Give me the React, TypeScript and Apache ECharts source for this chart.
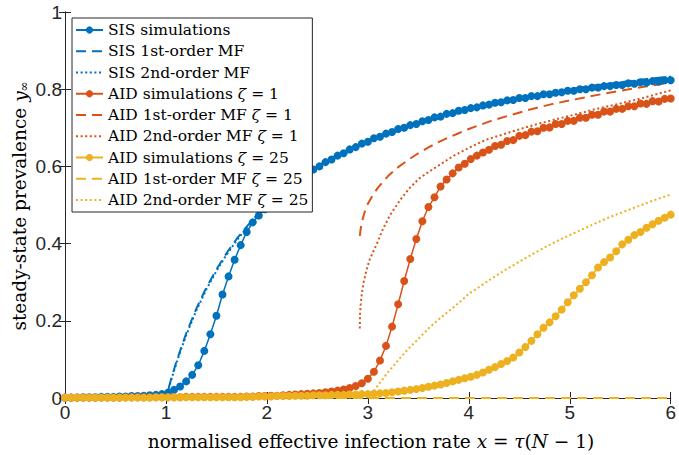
import React, { useEffect, useRef } from "react";
import * as echarts from "echarts";

// ---------- data ----------
const xSim = [
  0, 0.06, 0.12, 0.18, 0.24, 0.3, 0.36, 0.42, 0.48, 0.54,
  0.6, 0.66, 0.72, 0.78, 0.84, 0.9, 0.96, 1.02, 1.08, 1.14,
  1.2, 1.26, 1.32, 1.38, 1.44, 1.5, 1.56, 1.62, 1.68, 1.74,
  1.8, 1.86, 1.92, 1.98, 2.04, 2.1, 2.16, 2.22, 2.28, 2.34,
  2.4, 2.46, 2.52, 2.58, 2.64, 2.7, 2.76, 2.82, 2.88, 2.94,
  3.0, 3.06, 3.12, 3.18, 3.24, 3.3, 3.36, 3.42, 3.48, 3.54,
  3.6, 3.66, 3.72, 3.78, 3.84, 3.9, 3.96, 4.02, 4.08, 4.14,
  4.2, 4.26, 4.32, 4.38, 4.44, 4.5, 4.56, 4.62, 4.68, 4.74,
  4.8, 4.86, 4.92, 4.98, 5.04, 5.1, 5.16, 5.22, 5.28, 5.34,
  5.4, 5.46, 5.52, 5.58, 5.64, 5.7, 5.76, 5.82, 5.88, 5.94,
  6.0,
];

const sisSim = [
  0.001, 0.001, 0.001, 0.002, 0.002, 0.002, 0.003, 0.003, 0.003, 0.004,
  0.004, 0.005, 0.005, 0.006, 0.007, 0.008, 0.010, 0.014, 0.021, 0.030,
  0.043, 0.060, 0.085, 0.122, 0.165, 0.213, 0.268, 0.315, 0.358, 0.396,
  0.430, 0.455, 0.473, 0.489,
  0.506, 0.521, 0.533, 0.548, 0.558, 0.571, 0.580, 0.592, 0.600, 0.611,
  0.618, 0.628, 0.634, 0.644, 0.650, 0.659, 0.664, 0.673, 0.677, 0.685,
  0.689, 0.697, 0.700, 0.707, 0.710, 0.717, 0.720, 0.727, 0.729, 0.736,
  0.738, 0.744, 0.746, 0.751, 0.753, 0.758, 0.760, 0.765, 0.766, 0.771,
  0.772, 0.777, 0.777, 0.782, 0.782, 0.787, 0.787, 0.791, 0.792, 0.796,
  0.796, 0.800, 0.800, 0.804, 0.804, 0.808, 0.808, 0.811, 0.811, 0.815,
  0.814, 0.818, 0.817, 0.821, 0.820, 0.823, 0.823,
];

const aid1Sim = [
  0.001, 0.001, 0.001, 0.001, 0.001, 0.001, 0.001, 0.001, 0.001, 0.001,
  0.002, 0.002, 0.002, 0.002, 0.002, 0.002, 0.002, 0.002, 0.002, 0.002,
  0.003, 0.003, 0.003, 0.003, 0.003, 0.003, 0.003, 0.003, 0.003, 0.003,
  0.004, 0.004, 0.005, 0.005, 0.006, 0.006, 0.007, 0.008, 0.009, 0.010,
  0.011, 0.012, 0.013, 0.015, 0.017, 0.019, 0.022, 0.026, 0.031, 0.038,
  0.050, 0.068, 0.097, 0.135, 0.185, 0.243, 0.303, 0.360, 0.412, 0.458,
  0.495, 0.520, 0.548, 0.566, 0.582, 0.597, 0.607, 0.619, 0.628, 0.636,
  0.643, 0.653, 0.656, 0.666, 0.668, 0.679, 0.681, 0.690, 0.691, 0.700,
  0.701, 0.710, 0.710, 0.718, 0.718, 0.726, 0.726, 0.734, 0.734, 0.742,
  0.742, 0.749, 0.749, 0.756, 0.756, 0.763, 0.762, 0.769, 0.768, 0.775,
  0.776,
];

const aid25Sim = [
  0.001, 0.001, 0.001, 0.001, 0.001, 0.001, 0.001, 0.001, 0.001, 0.001,
  0.001, 0.001, 0.001, 0.001, 0.001, 0.002, 0.002, 0.002, 0.002, 0.002,
  0.002, 0.002, 0.002, 0.002, 0.002, 0.002, 0.002, 0.002, 0.002, 0.002,
  0.003, 0.003, 0.004, 0.004, 0.004, 0.005, 0.005, 0.005, 0.006, 0.006,
  0.006, 0.007, 0.007, 0.007, 0.008, 0.008, 0.008, 0.009, 0.009, 0.010,
  0.010, 0.011, 0.012, 0.013, 0.015, 0.017, 0.019, 0.021, 0.023, 0.026,
  0.029, 0.032, 0.035, 0.039, 0.043, 0.047, 0.051, 0.055, 0.060, 0.066,
  0.073, 0.080, 0.088, 0.096, 0.105, 0.118, 0.132, 0.148, 0.165, 0.182,
  0.196, 0.212, 0.229, 0.248, 0.266, 0.283, 0.300, 0.318, 0.338, 0.352,
  0.364, 0.380, 0.398, 0.410, 0.422, 0.430, 0.441, 0.450, 0.459, 0.467,
  0.475,
];

const sisMfX = [
  0, 1, 1.05, 1.1, 1.15, 1.2, 1.3, 1.4, 1.5, 1.6, 1.7, 1.8, 1.9, 2.0, 2.2, 2.4,
  2.6, 2.8, 3.0, 3.25, 3.5, 3.75, 4.0, 4.25, 4.5, 4.75, 5.0, 5.25, 5.5, 5.75, 6.0,
];
const sisMf1 = [
  0, 0, 0.048, 0.091, 0.13, 0.167, 0.231, 0.286, 0.333, 0.375, 0.412, 0.444, 0.474, 0.5, 0.545, 0.583,
  0.615, 0.643, 0.667, 0.692, 0.714, 0.733, 0.75, 0.765, 0.778, 0.789, 0.8, 0.81, 0.818, 0.826, 0.833,
];
const sisMf2 = [
  0, 0, 0.045, 0.087, 0.126, 0.162, 0.226, 0.281, 0.329, 0.371, 0.408, 0.441, 0.471, 0.497, 0.543, 0.581,
  0.613, 0.641, 0.665, 0.69, 0.712, 0.731, 0.748, 0.763, 0.776, 0.788, 0.799, 0.809, 0.817, 0.825, 0.832,
];

const aid1Mf1X = [
  2.92, 2.93, 2.95, 2.97, 3.0, 3.05, 3.1, 3.2, 3.3, 3.4, 3.5, 3.6, 3.7, 3.8, 3.9, 4.0,
  4.2, 4.4, 4.6, 4.8, 5.0, 5.25, 5.5, 5.75, 6.0,
];
const aid1Mf1 = [
  0.42, 0.44, 0.465, 0.483, 0.503, 0.526, 0.545, 0.575, 0.598, 0.617, 0.634, 0.649, 0.663, 0.675, 0.686, 0.697,
  0.716, 0.732, 0.747, 0.76, 0.771, 0.784, 0.796, 0.807, 0.817,
];

const aid1Mf2X = [
  2.92, 2.922, 2.93, 2.94, 2.96, 2.99, 3.02, 3.09, 3.15, 3.22, 3.32, 3.41, 3.51, 3.61, 3.71, 3.84,
  4.0, 4.17, 4.4, 4.6, 4.8, 5.0, 5.25, 5.5, 5.75, 6.0,
];
const aid1Mf2 = [
  0.18, 0.215, 0.245, 0.27, 0.302, 0.335, 0.36, 0.4, 0.438, 0.474, 0.513, 0.543, 0.569, 0.587, 0.604, 0.626,
  0.648, 0.669, 0.688, 0.704, 0.718, 0.731, 0.748, 0.763, 0.779, 0.797,
];

const aid25Mf1X = [0, 3, 6];
const aid25Mf1 = [0, 0, 0];

const aid25Mf2X = [
  3.0, 3.05, 3.1, 3.2, 3.3, 3.4, 3.5, 3.6, 3.7, 3.8, 3.9, 4.0, 4.1, 4.2, 4.3, 4.4,
  4.5, 4.6, 4.7, 4.8, 4.9, 5.0, 5.1, 5.2, 5.3, 5.4, 5.5, 5.6, 5.7, 5.8, 5.9, 6.0,
];
const aid25Mf2 = [
  0, 0.015, 0.033, 0.067, 0.098, 0.127, 0.153, 0.18, 0.203, 0.225, 0.246, 0.27, 0.287, 0.305, 0.322, 0.338,
  0.353, 0.368, 0.383, 0.397, 0.41, 0.422, 0.434, 0.446, 0.458, 0.469, 0.479, 0.489, 0.499, 0.509, 0.518, 0.527,
];

const seriesNames = [
  "SIS simulations",
  "SIS 1st-order MF",
  "SIS 2nd-order MF",
  "AID simulations ζ = 1",
  "AID 1st-order MF ζ = 1",
  "AID 2nd-order MF ζ = 1",
  "AID simulations ζ = 25",
  "AID 1st-order MF ζ = 25",
  "AID 2nd-order MF ζ = 25",
];

const xTicks = { min: 0, max: 6, interval: 1 };
const yTicks = { min: 0, max: 1, interval: 0.2 };

// ---------- styling ----------
const BLUE = "#0072BD";
const ORANGE = "#D95319";
const YELLOW = "#EDB120";
const AXIS = "#262626";
const SERIF = "'DejaVu Serif', 'Liberation Serif', serif";
const SANS = "'Liberation Sans', Arial, Helvetica, sans-serif";
const DASH = [10, 6];
const DOT = [2, 2.6];

const zip = (xs: number[], ys: number[]) => xs.map((x, i) => [x, ys[i]]);

function simSeries(name: string, ys: number[], color: string) {
  return {
    name,
    type: "line",
    data: zip(xSim, ys),
    symbol: "circle",
    symbolSize: 8,
    showSymbol: true,
    showAllSymbol: true,
    lineStyle: { color, width: 1.5 },
    itemStyle: { color },
    emphasis: { disabled: true },
  };
}

function mfSeries(name: string, xs: number[], ys: number[], color: string, dash: number[]) {
  return {
    name,
    type: "line",
    data: zip(xs, ys),
    symbol: "none",
    showSymbol: false,
    lineStyle: { color, width: 2, type: dash },
    itemStyle: { color },
    emphasis: { disabled: true },
  };
}

export default function App() {
  const ref = useRef<HTMLDivElement>(null);

  useEffect(() => {
    if (!ref.current) return;
    const chart = echarts.init(ref.current, null, { renderer: "svg" });

    const axisLine = { show: true, lineStyle: { color: AXIS, width: 1 } };
    const axisTick = { show: true, inside: true, length: 6, lineStyle: { color: AXIS, width: 1 } };

    const legendData = seriesNames.map((n) =>
      n.includes("MF") ? { name: n, itemStyle: { opacity: 0 } } : { name: n }
    );

    const option: any = {
      animation: false,
      backgroundColor: "#ffffff",
      grid: { left: 65, top: 12, width: 612, height: 386, containLabel: false },
      xAxis: [
        {
          type: "value",
          position: "bottom",
          ...xTicks,
          axisLine,
          axisTick,
          splitLine: { show: false },
          axisLabel: { color: AXIS, fontSize: 19, fontFamily: SANS, margin: 5 },
        },
        {
          type: "value",
          position: "top",
          ...xTicks,
          axisLine,
          axisTick,
          splitLine: { show: false },
          axisLabel: { show: false },
        },
      ],
      yAxis: [
        {
          type: "value",
          position: "left",
          ...yTicks,
          axisLine,
          axisTick,
          splitLine: { show: false },
          axisLabel: { color: AXIS, fontSize: 19, fontFamily: SANS, margin: 3 },
        },
        {
          type: "value",
          position: "right",
          ...yTicks,
          axisLine,
          axisTick,
          splitLine: { show: false },
          axisLabel: { show: false },
        },
      ],
      legend: {
        orient: "vertical",
        left: 72,
        top: 18,
        padding: [2, 4, 2, 3],
        itemWidth: 27,
        itemHeight: 9,
        itemGap: 1.25,
        backgroundColor: "#ffffff",
        borderColor: AXIS,
        borderWidth: 1,
        borderRadius: 0,
        data: legendData,
        selectedMode: false,
        formatter: (n: string) => n.replace("ζ", "{i|ζ}"),
        textStyle: {
          color: "#000",
          fontFamily: SERIF,
          fontSize: 15.5,
          lineHeight: 20,
          rich: {
            i: { fontFamily: SERIF, fontSize: 15.5, fontStyle: "italic", color: "#000", lineHeight: 20 },
          },
        },
      },
      graphic: [
        {
          type: "text",
          x: 371,
          y: 441,
          style: {
            text: "normalised effective infection rate {i|x} = {i|τ}({i|N} − 1)",
            fontFamily: SERIF,
            fontSize: 18.5,
            fill: "#000",
            align: "center",
            verticalAlign: "middle",
            rich: {
              i: { fontFamily: SERIF, fontSize: 18.5, fontStyle: "italic", fill: "#000" },
            },
          },
        },
        {
          type: "text",
          x: 19,
          y: 206,
          rotation: Math.PI / 2,
          style: {
            text: "steady-state prevalence {i|y}{s|∞}",
            fontFamily: SERIF,
            fontSize: 18.5,
            lineHeight: 22,
            fill: "#000",
            align: "center",
            verticalAlign: "middle",
            rich: {
              i: { fontFamily: SERIF, fontSize: 18.5, lineHeight: 22, fontStyle: "italic", fill: "#000", verticalAlign: "bottom" },
              s: { fontFamily: SERIF, fontSize: 12, lineHeight: 12, fill: "#000", verticalAlign: "bottom" },
            },
          },
        },
      ],
      series: [
        simSeries(seriesNames[0], sisSim, BLUE),
        mfSeries(seriesNames[1], sisMfX, sisMf1, BLUE, DASH),
        mfSeries(seriesNames[2], sisMfX, sisMf2, BLUE, DOT),
        simSeries(seriesNames[3], aid1Sim, ORANGE),
        mfSeries(seriesNames[4], aid1Mf1X, aid1Mf1, ORANGE, DASH),
        mfSeries(seriesNames[5], aid1Mf2X, aid1Mf2, ORANGE, DOT),
        simSeries(seriesNames[6], aid25Sim, YELLOW),
        mfSeries(seriesNames[7], aid25Mf1X, aid25Mf1, YELLOW, DASH),
        mfSeries(seriesNames[8], aid25Mf2X, aid25Mf2, YELLOW, DOT),
      ],
    };

    chart.setOption(option);
    return () => chart.dispose();
  }, []);

  return (
    <div
      ref={ref}
      style={{ position: "fixed", left: 0, top: 0, width: 679, height: 455, background: "#fff" }}
    />
  );
}
